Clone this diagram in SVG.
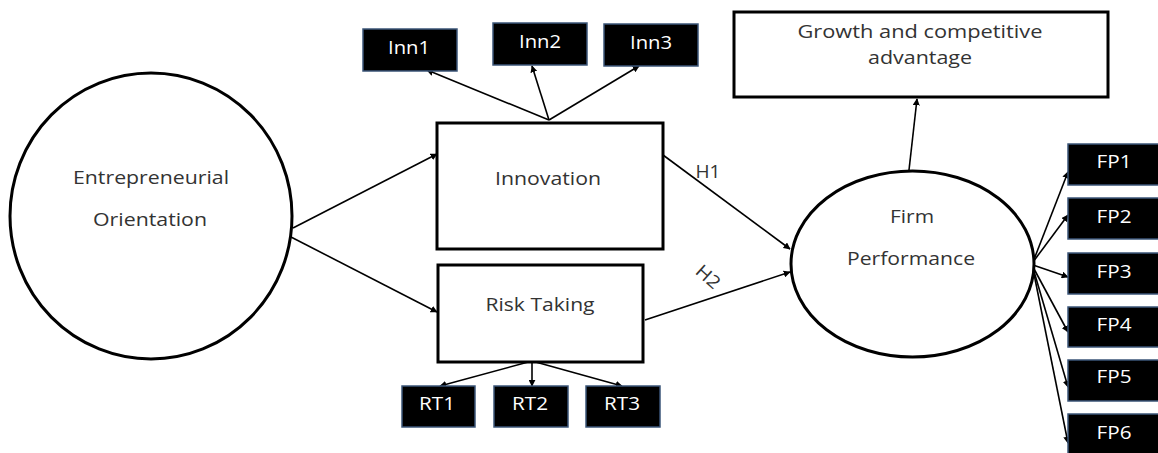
<svg xmlns="http://www.w3.org/2000/svg" width="1158" height="453" viewBox="0 0 1158 453">
<style>
.t{font-family:"Open Sans","Liberation Sans",sans-serif;font-size:18px;fill:#333;text-anchor:middle}
.w{font-family:"Open Sans","Liberation Sans",sans-serif;font-size:18px;fill:#fff;text-anchor:middle}
.node{fill:#fff;stroke:#000;stroke-width:3}
.ind{fill:#000;stroke:#3b5578;stroke-width:1.5}
.c{stroke:#000;stroke-width:1.6;fill:none;marker-end:url(#ah)}
</style>
<defs>
<marker id="ah" viewBox="0 0 10 10" refX="9" refY="5" markerWidth="7" markerHeight="7" markerUnits="userSpaceOnUse" orient="auto">
<path d="M0,0 L10,5 L0,10 z" fill="#000"/>
</marker>
</defs>
<rect width="1158" height="453" fill="#fff"/>
<g id="connectors">
<line class="c" x1="293" y1="228" x2="437" y2="154"/>
<line class="c" x1="291" y1="237" x2="437" y2="312"/>
<line class="c" x1="549" y1="120" x2="427" y2="70"/>
<line class="c" x1="549" y1="120" x2="532" y2="66"/>
<line class="c" x1="549" y1="120" x2="639" y2="66"/>
<line class="c" x1="532" y1="361" x2="440" y2="386"/>
<line class="c" x1="532" y1="361" x2="532" y2="386"/>
<line class="c" x1="532" y1="361" x2="622" y2="386"/>
<line class="c" x1="663" y1="155" x2="790" y2="249"/>
<line class="c" x1="645" y1="320" x2="790" y2="272"/>
<line class="c" x1="909" y1="170" x2="917" y2="99"/>
<line class="c" x1="1033" y1="262" x2="1068" y2="172"/>
<line class="c" x1="1033" y1="262" x2="1068" y2="215"/>
<line class="c" x1="1033" y1="265" x2="1068" y2="277"/>
<line class="c" x1="1033" y1="267" x2="1068" y2="332"/>
<line class="c" x1="1033" y1="268" x2="1068" y2="387"/>
<line class="c" x1="1033" y1="269" x2="1068" y2="443"/>
<text class="t" x="708" y="178" textLength="25" lengthAdjust="spacingAndGlyphs">H1</text>
<text class="t" x="0" y="6" transform="translate(708,277) rotate(42)" textLength="26" lengthAdjust="spacingAndGlyphs">H2</text>
</g>
<g id="eo">
<ellipse class="node" cx="151" cy="216" rx="141" ry="143"/>
<text class="t" x="151" y="184" textLength="156" lengthAdjust="spacingAndGlyphs">Entrepreneurial</text>
<text class="t" x="150" y="226" textLength="114" lengthAdjust="spacingAndGlyphs">Orientation</text>
</g>
<g id="innovation">
<rect class="node" x="437" y="123" width="226" height="126"/>
<text class="t" x="548" y="185" textLength="106" lengthAdjust="spacingAndGlyphs">Innovation</text>
</g>
<g id="risk">
<rect class="node" x="438" y="265" width="205" height="97"/>
<text class="t" x="540" y="311" textLength="109" lengthAdjust="spacingAndGlyphs">Risk Taking</text>
</g>
<g id="firm">
<ellipse class="node" cx="912.5" cy="264" rx="121.5" ry="93"/>
<text class="t" x="912" y="223" textLength="44" lengthAdjust="spacingAndGlyphs">Firm</text>
<text class="t" x="911" y="265" textLength="128" lengthAdjust="spacingAndGlyphs">Performance</text>
</g>
<g id="growth">
<rect class="node" x="734" y="12" width="374" height="85"/>
<text class="t" x="920" y="38" textLength="245" lengthAdjust="spacingAndGlyphs">Growth and competitive</text>
<text class="t" x="920" y="64" textLength="104" lengthAdjust="spacingAndGlyphs">advantage</text>
</g>
<g id="inn1"><rect class="ind" x="363" y="29" width="94" height="42"/><text class="w" x="409" y="54" textLength="42" lengthAdjust="spacingAndGlyphs">Inn1</text></g>
<g id="inn2"><rect class="ind" x="493" y="23" width="94" height="42"/><text class="w" x="540" y="48" textLength="42" lengthAdjust="spacingAndGlyphs">Inn2</text></g>
<g id="inn3"><rect class="ind" x="604" y="24" width="94" height="42"/><text class="w" x="651" y="49" textLength="42" lengthAdjust="spacingAndGlyphs">Inn3</text></g>
<g id="rt1"><rect class="ind" x="402" y="386" width="73" height="41"/><text class="w" x="437" y="410" textLength="36" lengthAdjust="spacingAndGlyphs">RT1</text></g>
<g id="rt2"><rect class="ind" x="494" y="386" width="74" height="41"/><text class="w" x="530" y="410" textLength="36" lengthAdjust="spacingAndGlyphs">RT2</text></g>
<g id="rt3"><rect class="ind" x="586" y="386" width="74" height="41"/><text class="w" x="622" y="410" textLength="36" lengthAdjust="spacingAndGlyphs">RT3</text></g>
<g id="fp1"><rect class="ind" x="1068" y="144" width="95" height="41"/><text class="w" x="1114" y="168" textLength="35" lengthAdjust="spacingAndGlyphs">FP1</text></g>
<g id="fp2"><rect class="ind" x="1068" y="198" width="95" height="41"/><text class="w" x="1114" y="223" textLength="35" lengthAdjust="spacingAndGlyphs">FP2</text></g>
<g id="fp3"><rect class="ind" x="1068" y="253" width="95" height="41"/><text class="w" x="1114" y="278" textLength="35" lengthAdjust="spacingAndGlyphs">FP3</text></g>
<g id="fp4"><rect class="ind" x="1068" y="307" width="95" height="40"/><text class="w" x="1114" y="331" textLength="35" lengthAdjust="spacingAndGlyphs">FP4</text></g>
<g id="fp5"><rect class="ind" x="1068" y="360" width="95" height="41"/><text class="w" x="1114" y="383" textLength="35" lengthAdjust="spacingAndGlyphs">FP5</text></g>
<g id="fp6"><rect class="ind" x="1068" y="414" width="95" height="45"/><text class="w" x="1114" y="439" textLength="35" lengthAdjust="spacingAndGlyphs">FP6</text></g>
</svg>
